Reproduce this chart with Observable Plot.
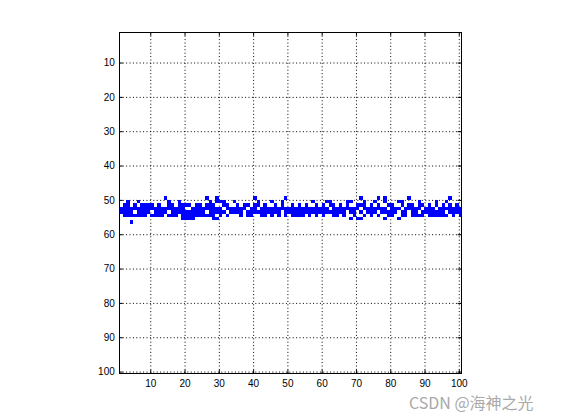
<!DOCTYPE html>
<html>
<head>
<meta charset="utf-8">
<script src="https://cdn.jsdelivr.net/npm/d3@7"></script>
<script src="https://cdn.jsdelivr.net/npm/@observablehq/plot@0.6"></script>
<style>
  html, body { margin: 0; padding: 0; background: #fff; }
  #wrap { position: relative; width: 561px; height: 420px; }
  #mark { position: absolute; left: 409px; top: 390px; font: 16px "Noto Sans CJK SC", "Liberation Sans", sans-serif; color: #a9a9a9; white-space: nowrap; }
</style>
</head>
<body>
<div id="wrap"><div id="mark">CSDN @海神之光</div></div>
<script>
// Tick labels
const xTicks = [10, 20, 30, 40, 50, 60, 70, 80, 90, 100];
const yTicks = [10, 20, 30, 40, 50, 60, 70, 80, 90, 100];

// Column indices 1..100
const columns = d3.range(1, 101);

// Filled rows (cell top index) for each column
const bandRows = [
  [52,53],[51,52,53,54],[50,51,52,53,54],[52,53,54,56],[51,52,54],
  [50,52,53,54],[51,52,53,54],[51,52,53,54],[51,52,53],[51,52,54],
  [52,53,54],[51,52,53,54],[52,53,54],[49,52,53],[50,51,52,54],
  [51,52,53,54],[52,53,54],[50,51,52,53],[51,52,53,54,55],[51,53,54,55],
  [51,53,54,55],[52,53,54,55],[51,52,53,54],[51,52,53,54],[52,53,54],
  [49,51,52,54],[50,51,52,53,54],[51,52,53,54,55],[49,50,52,53,55],[50,52,53,54],
  [50,51,53],[51,52,54],[52,53],[50,52,53],[51,52,53],
  [52,53,54],[51,52],[51,53,54],[52,53,54],[49,51,52,53],
  [50,51,53],[52,53,54],[51,52,53,54],[52,53],[50,52,53,54],
  [51,52,53],[52,53,54],[50,51,52],[49,52,53,54],[52,53],
  [51,52,53,54],[52,53,54],[51,52,53,54],[52,53,54],[51,52,53],
  [52,53,54],[50,52,53],[51,52,53,54],[52,53],[51,52,53,54],
  [50,52,53],[50,51,53],[51,52,53,54],[52,53,54],[51,52,53],
  [52,53,54],[50,51,52],[50,52,53,55],[52,53,54],[51,52,55],
  [49,51,53,55],[50,51,52,54],[52,53],[51,52,53,54],[50,52,53],
  [49,51,52,54],[52,53],[49,50,52,53,55],[51,53,54],[51,52,53,54],
  [52,53],[50,52,55],[50,51,53,54],[52,53,54],[49,51,52],
  [51,52,53,54],[52,53,54],[50,51,52,54],[51,53,54],[52,53],
  [51,52,53,54],[52,53,54],[50,51,53,54],[52,53,54],[51,52,53,54],
  [50,52,54],[49,51,52,53],[52,53,54],[51,52,53],[52,53,54]
];

const cells = columns.flatMap((c, i) => bandRows[i].map(r => ({c, r})));

const xDomain = [0.96, 100.65];
const yDomain = [1.2, 100.5];

const chart = Plot.plot({
  width: 561,
  height: 420,
  marginLeft: 119,
  marginRight: 100,
  marginTop: 32,
  marginBottom: 47,
  style: {fontFamily: "'Liberation Sans', Arial, sans-serif", fontSize: "10px", background: "#fff", color: "#000"},
  x: {domain: xDomain, range: [119.3, 461], axis: null},
  y: {domain: yDomain, range: [32.3, 373.3], axis: null},
  marks: [
    Plot.ruleX(xTicks, {stroke: "#000", strokeWidth: 1, strokeDasharray: "1,2.4", strokeOpacity: 1, y1: yDomain[0], y2: yDomain[1]}),
    Plot.ruleY(yTicks, {stroke: "#000", strokeWidth: 1, strokeDasharray: "1,2.4", strokeOpacity: 1, x1: xDomain[0], x2: xDomain[1]}),
    Plot.rect(cells, {x1: "c", x2: d => d.c + 1, y1: "r", y2: d => d.r + 1, fill: "#0000ff", inset: 0, clip: true, shapeRendering: "crispEdges"}),
    // inward ticks
    Plot.ruleX(xTicks, {y1: yDomain[1], y2: yDomain[1] - 1, stroke: "#000"}),
    Plot.ruleX(xTicks, {y1: yDomain[0], y2: yDomain[0] + 1, stroke: "#000"}),
    Plot.ruleY(yTicks, {x1: xDomain[0], x2: xDomain[0] + 1, stroke: "#000"}),
    Plot.ruleY(yTicks, {x1: xDomain[1], x2: xDomain[1] - 1, stroke: "#000"}),
    Plot.frame({stroke: "#000", strokeWidth: 1}),
    Plot.text(xTicks, {x: d => d, y: yDomain[1], text: d => String(d), dy: 10, fill: "#000", fontSize: 10, lineAnchor: "middle"}),
    Plot.text(yTicks, {y: d => d, x: xDomain[0], text: d => String(d), dx: -5, textAnchor: "end", fill: "#000", fontSize: 10})
  ]
});

document.getElementById("wrap").prepend(chart);
chart.style.position = "absolute";
chart.style.left = "0";
chart.style.top = "0";
</script>
</body>
</html>
